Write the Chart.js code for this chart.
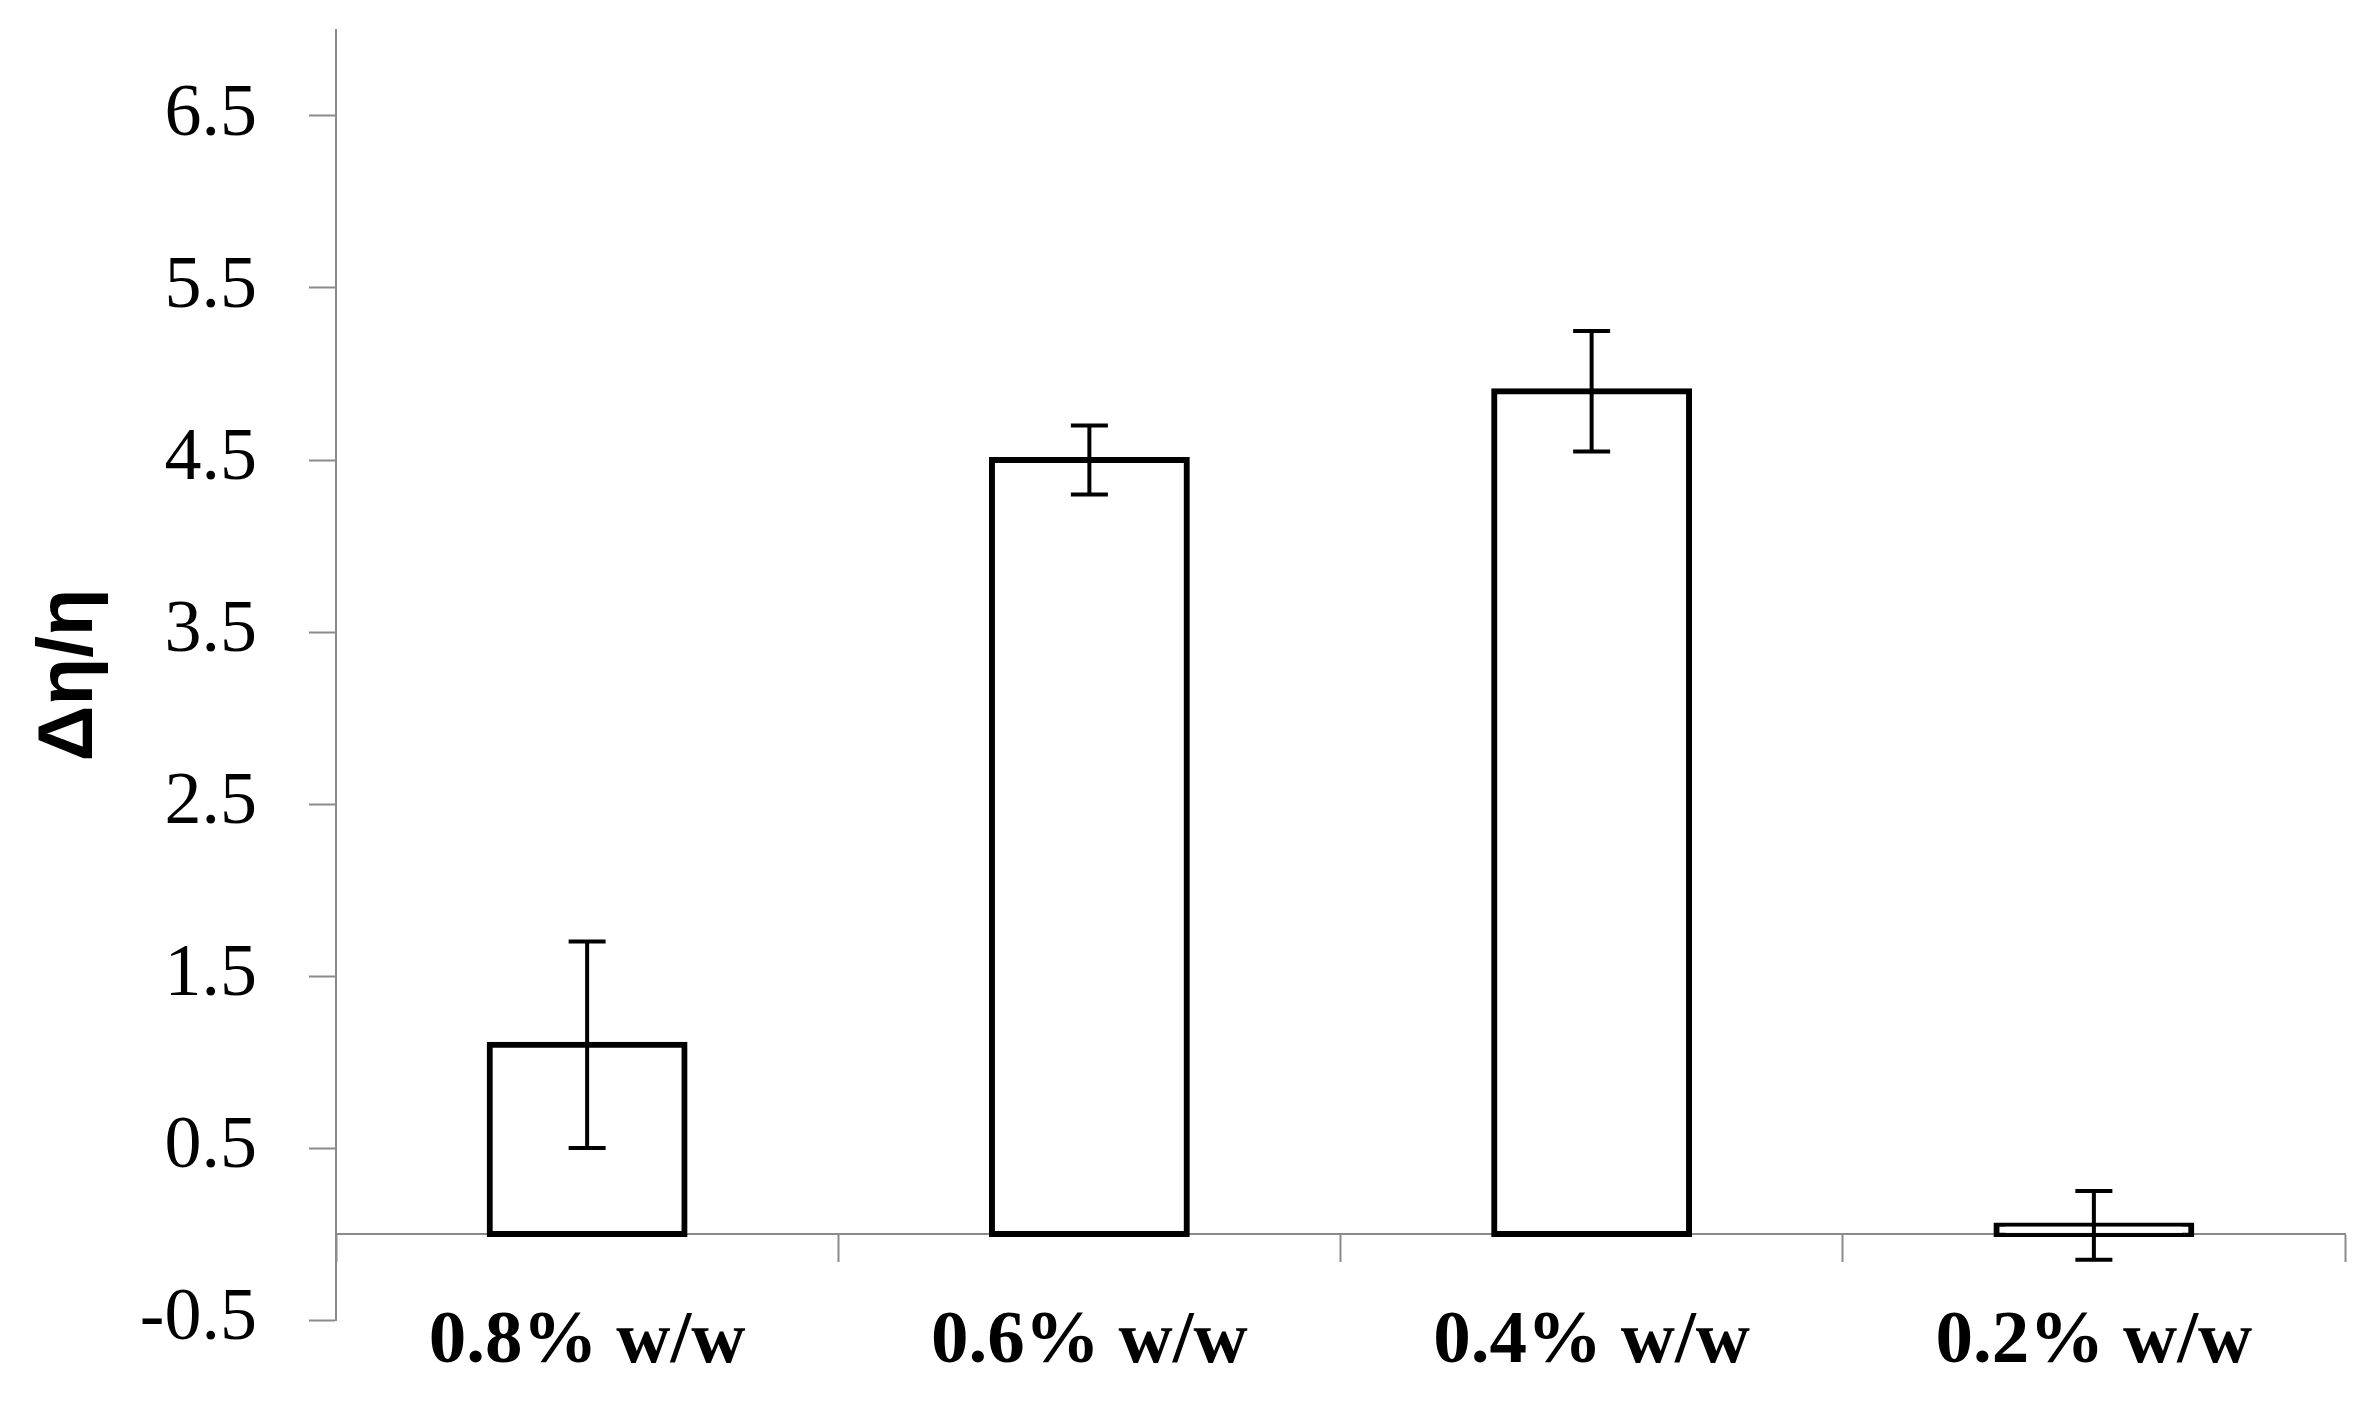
<!DOCTYPE html>
<html>
<head>
<meta charset="utf-8">
<script src="https://cdn.jsdelivr.net/npm/chart.js@4.4.1/dist/chart.umd.min.js"></script>
<style>
  html, body { margin: 0; padding: 0; background: #fff; }
  canvas { display: block; }
</style>
</head>
<body>
<canvas id="chart" width="2372" height="1416" style="width:2372px;height:1416px"></canvas>
<script>
// data
const categories = ["0.8% w/w", "0.6% w/w", "0.4% w/w", "0.2% w/w"];
const values = [1.1, 4.5, 4.9, 0.05];
const errors = [0.6, 0.2, 0.35, 0.2];
const yTicks = [-0.5, 0.5, 1.5, 2.5, 3.5, 4.5, 5.5, 6.5];

const axisGray = "#8a8a8a";

// simple error bar drawing using the y scale
const errorBars = {
  id: "errorBars",
  afterDatasetsDraw(chart) {
    const ctx = chart.ctx;
    const yScale = chart.scales.y;
    const meta = chart.getDatasetMeta(0);
    ctx.save();
    ctx.strokeStyle = "#000";
    ctx.lineWidth = 4;
    meta.data.forEach((bar, i) => {
      const x = bar.x;
      const top = yScale.getPixelForValue(values[i] + errors[i]);
      const bottom = yScale.getPixelForValue(values[i] - errors[i]);
      const half = 18.5;
      ctx.beginPath();
      ctx.moveTo(x, top);
      ctx.lineTo(x, bottom);
      ctx.moveTo(x - half, top);
      ctx.lineTo(x + half, top);
      ctx.moveTo(x - half, bottom);
      ctx.lineTo(x + half, bottom);
      ctx.stroke();
    });
    ctx.restore();
  },
};

new Chart(document.getElementById("chart"), {
  type: "bar",
  data: {
    labels: categories,
    datasets: [
      {
        data: values,
        backgroundColor: "#fff",
        borderColor: "#000",
        borderWidth: 6,
        borderSkipped: false,
        inflateAmount: 3, // outline centred on the bar edge, like the original
        barPercentage: 0.388,
        categoryPercentage: 1.0,
      },
    ],
  },
  options: {
    responsive: false,
    devicePixelRatio: 1,
    animation: false,
    layout: {
      padding: { left: 0, right: 27, top: 30, bottom: 96 },
    },
    plugins: {
      legend: { display: false },
      tooltip: { enabled: false },
    },
    scales: {
      x: {
        position: { y: 0 },
        grid: {
          offset: true,
          drawOnChartArea: false,
          drawTicks: true,
          tickLength: 27,
          tickColor: axisGray,
          tickWidth: 2,
        },
        border: { display: true, color: axisGray, width: 2 },
        ticks: {
          padding: 37,
          color: "#000",
          font: { family: "'Liberation Serif', serif", size: 75, weight: "bold" },
        },
        afterFit(scale) {
          scale.paddingLeft = 0;
          scale.paddingRight = 0;
        },
      },
      y: {
        min: -0.5,
        max: 7,
        grid: {
          drawOnChartArea: false,
          drawTicks: true,
          tickLength: 27,
          tickColor: axisGray,
          tickWidth: 2,
        },
        border: { display: true, color: axisGray, width: 2 },
        ticks: {
          padding: 52,
          color: "#000",
          font: { family: "'Liberation Serif', serif", size: 74 },
          callback: (value) => Number(value).toFixed(1),
        },
        afterBuildTicks(scale) {
          scale.ticks = yTicks.map((v) => ({ value: v }));
        },
        title: {
          display: true,
          text: "Δη/η",
          color: "#000",
          padding: { top: 24, bottom: 0 },
          font: { family: "'Liberation Sans', sans-serif", size: 78, weight: "bold" },
        },
        afterFit(scale) {
          scale.width = 336;
          scale.paddingTop = 0;
          scale.paddingBottom = 0;
        },
      },
    },
  },
  plugins: [errorBars],
});
</script>
</body>
</html>
